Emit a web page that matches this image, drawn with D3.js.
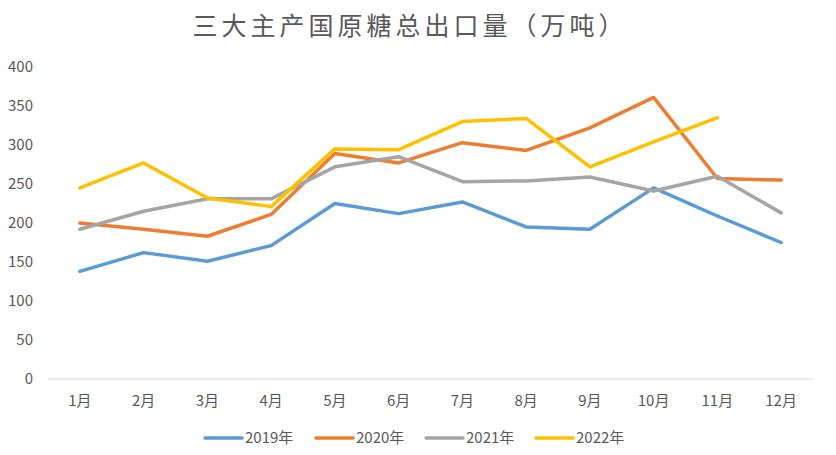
<!DOCTYPE html>
<html>
<head>
<meta charset="utf-8">
<script src="https://cdn.jsdelivr.net/npm/d3@7"></script>
<style>
  body { margin: 0; background: #fff; }
  text { font-family: "Noto Sans CJK SC", "Noto Sans", sans-serif; fill: #595959; }
</style>
</head>
<body>
<svg id="chart"></svg>
<script>
// 三大主产国原糖总出口量（万吨）
const months = ["1月", "2月", "3月", "4月", "5月", "6月", "7月", "8月", "9月", "10月", "11月", "12月"];
const yTicks = [0, 50, 100, 150, 200, 250, 300, 350, 400];

const years = ["2019年", "2020年", "2021年", "2022年"];
const colors = ["#5B9BD5", "#ED7D31", "#A5A5A5", "#FFC000"];

const v2019 = [138, 162, 151, 171, 225, 212, 227, 195, 192, 245, 209, 175];
const v2020 = [200, 192, 183, 211, 289, 277, 303, 293, 322, 361, 257, 255];
const v2021 = [192, 215, 231, 231, 272, 285, 253, 254, 259, 241, 260, 213];
const v2022 = [245, 277, 232, 221, 295, 294, 330, 334, 272, 304, 335, null];

const seriesValues = [v2019, v2020, v2021, v2022];

const width = 836, height = 455;
const plot = { left: 48, right: 813, top: 67, bottom: 379 };

let svg = d3.select("#chart").attr("width", width).attr("height", height);

let xScale = d3.scaleBand().domain(months).range([plot.left, plot.right]);
let yScale = d3.scaleLinear().domain([0, 400]).range([plot.bottom, plot.top]);

// title
svg.append("text")
    .attr("x", 410)
    .attr("y", 35)
    .attr("text-anchor", "middle")
    .attr("font-size", 25)
    .attr("letter-spacing", 4)
    .text("三大主产国原糖总出口量（万吨）");

// y labels (no grid lines)
svg.selectAll("text.ylab")
    .data(yTicks)
    .enter()
    .append("text")
    .attr("class", "ylab")
    .attr("x", 33)
    .attr("y", d => yScale(d) + 5)
    .attr("text-anchor", "end")
    .attr("font-size", 15)
    .text(d => d);

// x axis line
svg.append("line")
    .attr("x1", plot.left).attr("x2", plot.right)
    .attr("y1", plot.bottom).attr("y2", plot.bottom)
    .attr("stroke", "#D9D9D9")
    .attr("stroke-width", 1);

svg.selectAll("text.xlab")
    .data(months)
    .enter()
    .append("text")
    .attr("class", "xlab")
    .attr("x", d => xScale(d) + xScale.bandwidth() / 2)
    .attr("y", 406)
    .attr("text-anchor", "middle")
    .attr("font-size", 15)
    .text(d => d);

// lines
let line = d3.line()
    .defined(d => d.value != null)
    .x(d => xScale(d.month) + xScale.bandwidth() / 2)
    .y(d => yScale(d.value));

seriesValues.forEach(function(values, i) {
    let points = values.map((v, j) => ({ month: months[j], value: v }));
    svg.append("path")
        .datum(points)
        .attr("fill", "none")
        .attr("stroke", colors[i])
        .attr("stroke-width", 3.5)
        .attr("stroke-linejoin", "round")
        .attr("stroke-linecap", "round")
        .attr("d", line);
});

// legend
const legendX = [205, 316, 426, 536];
years.forEach(function(name, i) {
    let g = svg.append("g").attr("transform", `translate(${legendX[i]},438)`);
    g.append("line")
        .attr("x1", 0).attr("x2", 37)
        .attr("y1", 0).attr("y2", 0)
        .attr("stroke", colors[i])
        .attr("stroke-width", 3.5)
        .attr("stroke-linecap", "round");
    g.append("text")
        .attr("x", 40)
        .attr("y", 5)
        .attr("font-size", 15)
        .text(name);
});
</script>
</body>
</html>
